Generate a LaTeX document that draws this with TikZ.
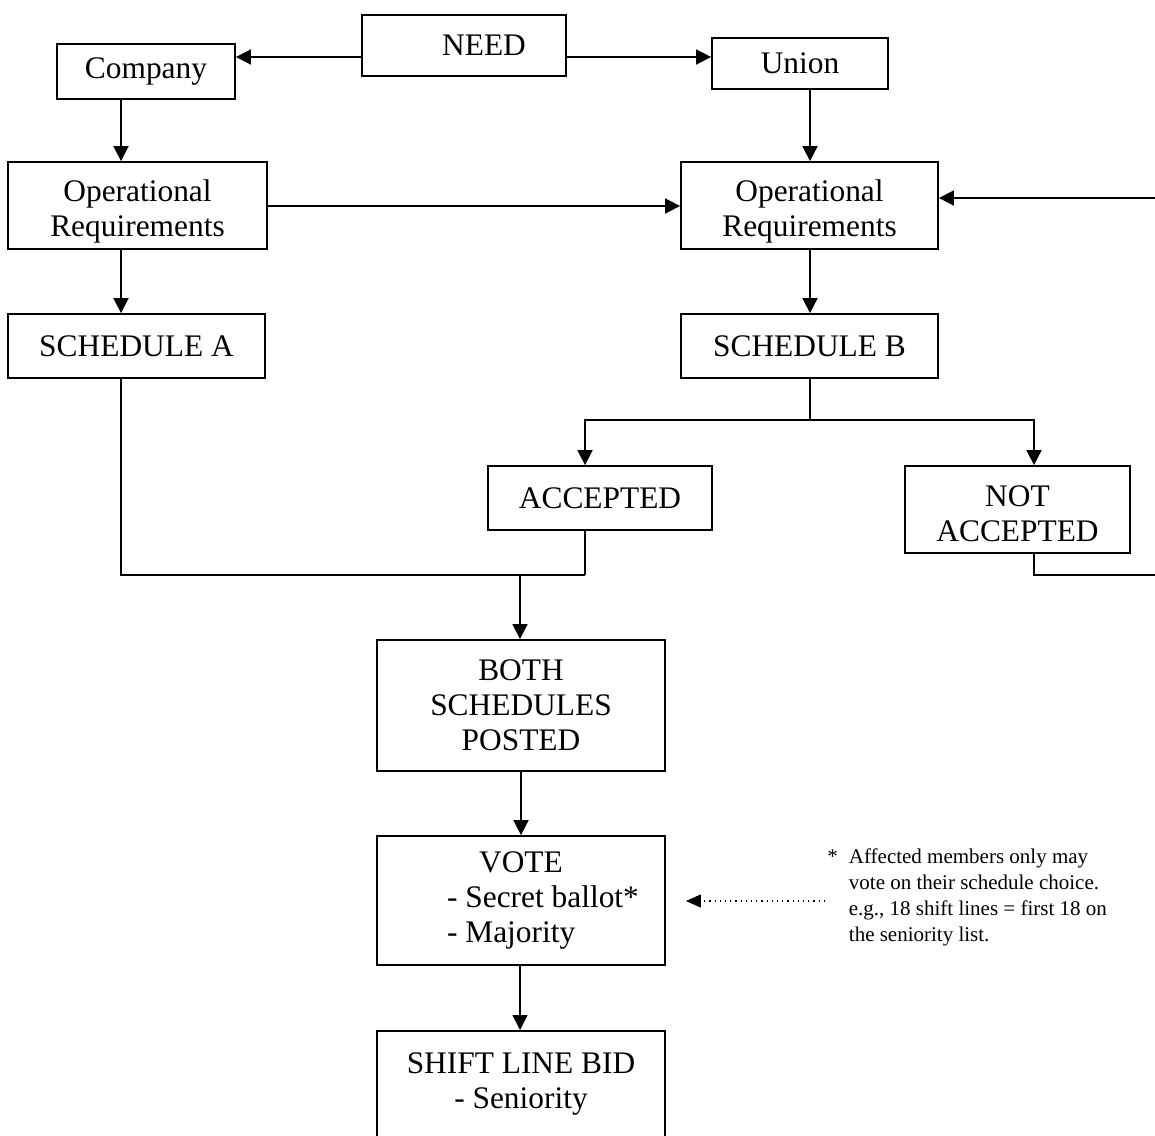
\documentclass[tikz,border=0pt]{standalone}
\usepackage{fontspec}
\setmainfont{Liberation Serif}
\usepackage{tikz}
\usetikzlibrary{arrows.meta}

\begin{document}
\begin{tikzpicture}[x = .5pt, y = -.5pt,
    font = \fontsize{15.7}{17.6}\selectfont,
    box/.style = {draw, line width = .9pt, rectangle, align = center, inner sep = 0pt},
    arr/.style = {line width = .85pt, -{Triangle[length = 7.5pt, width = 7.5pt]}},
    line/.style = {line width = .85pt},
    dotarr/.style = {line width = .6pt, dotted, -{Triangle[length = 7.5pt, width = 6.5pt]}}]
  \useasboundingbox (0, 0) rectangle (1155, 1135);
  \clip (0, 0) rectangle (1155, 1135);
  % columns and rows
  \coordinate (colA) at (121, 0);
  \coordinate (colB) at (810, 0);
  \coordinate (colM) at (520, 0);
  \coordinate (colAcc) at (585, 0);
  \coordinate (colN) at (1034, 0);
  \coordinate (rowN) at (0, 57);
  \coordinate (rowOp) at (0, 206);
  % boxes
  \node[box, minimum width = 102pt, minimum height = 30.5pt] (need) at (464, 45.5) {\hspace*{20pt}NEED};
  \node[box, minimum width = 89pt, minimum height = 27.5pt] (company) at (146, 71.5) {Company};
  \node[box, minimum width = 88pt, minimum height = 25.5pt] (union) at (800, 63.5) {Union};
  \node[box, minimum width = 129.5pt, minimum height = 43.5pt] (opa) at (137.5, 205.5)
    {\rule{0pt}{17.2pt}Operational\\Requirements};
  \node[box, minimum width = 128.5pt, minimum height = 43.5pt] (opb) at (809.5, 205.5)
    {\rule{0pt}{17.2pt}Operational\\Requirements};
  \node[box, minimum width = 128.5pt, minimum height = 32pt] (scha) at (136.5, 346) {SCHEDULE A};
  \node[box, minimum width = 128.5pt, minimum height = 32pt] (schb) at (809.5, 346) {SCHEDULE B};
  \node[box, minimum width = 112pt, minimum height = 32pt] (acc) at (600, 498) {ACCEPTED};
  \node[box, minimum width = 112.5pt, minimum height = 43.5pt] (nacc) at (1017.5, 509.5)
    {\rule{0pt}{14.9pt}NOT\\ACCEPTED};
  \node[box, minimum width = 144pt, minimum height = 65.5pt] (both) at (521, 705.5) {BOTH\\SCHEDULES\\POSTED};
  \node[box, minimum width = 144pt, minimum height = 64.5pt, align = left] (vote) at (521, 900.5)
    {\hspace*{38pt}VOTE\\\hspace*{22pt}- Secret ballot*\\\hspace*{22pt}- Majority};
  \node[box, anchor = north, minimum width = 144pt, inner ysep = 11pt, text depth = 60pt] (bid) at (521, 1030)
    {SHIFT LINE BID\\- Seniority};
  % note
  \node[anchor = base west, inner sep = 0pt, font = \fontsize{10.5}{13}\selectfont] (note) at (827, 863)
    {\begin{tabular}[t]{@{}l@{\hspace{5.5pt}}l@{}}
      * & Affected members only may\\
        & vote on their schedule choice.\\
        & e.g., 18 shift lines = first 18 on\\
        & the seniority list.
    \end{tabular}};
  % connectors
  \draw[arr] (need.west |- rowN) -- (company.east |- rowN);
  \draw[arr] (need.east |- rowN) -- (union.west |- rowN);
  \draw[arr] (company.south -| colA) -- (opa.north -| colA);
  \draw[arr] (union.south -| colB) -- (opb.north -| colB);
  \draw[arr] (opa.east |- rowOp) -- (opb.west |- rowOp);
  \coordinate (fbtop) at (1155, 198);
  \coordinate (fbbot) at (1155, 575);
  \draw[arr] (fbtop) -- (fbtop -| opb.east);
  \draw[arr] (opa.south -| colA) -- (scha.north -| colA);
  \draw[arr] (opb.south -| colB) -- (schb.north -| colB);
  \coordinate (split) at (810, 420);
  \draw[line] (schb.south -| colB) -- (split);
  \draw[arr] (split) -| (acc.north -| colAcc);
  \draw[arr] (split) -| (nacc.north -| colN);
  \draw[line] (nacc.south -| colN) |- (fbbot);
  \coordinate (join) at (520, 575);
  \draw[line] (scha.south -| colA) |- (join -| colAcc);
  \draw[line] (acc.south -| colAcc) -- (join -| colAcc);
  \draw[arr] (join) -- (both.north -| colM);
  \draw[arr] (both) -- (vote);
  \draw[arr] (vote.south -| colM) -- (bid.north -| colM);
  \coordinate (noteend) at (825, 901);
  \draw[dotarr, shorten > = 10pt] (noteend) -- (noteend -| vote.east);
\end{tikzpicture}
\end{document}
